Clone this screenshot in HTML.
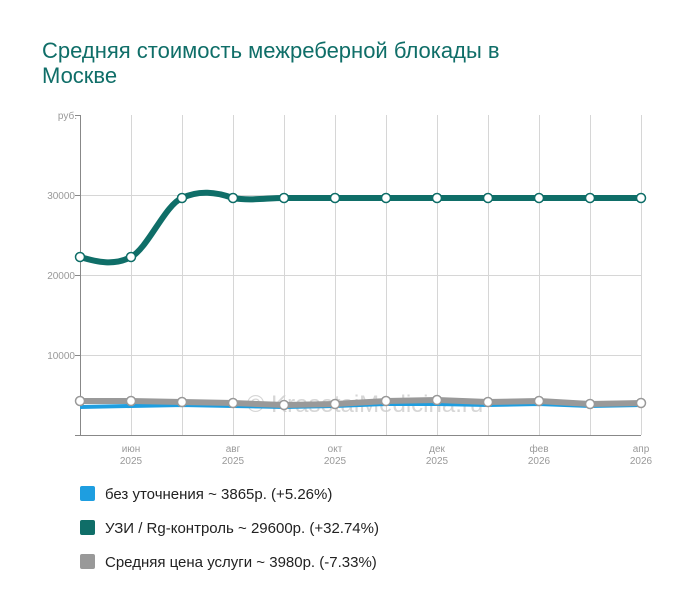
<!DOCTYPE html>
<html><head><meta charset="utf-8"><style>
body{margin:0;background:#fff;width:700px;height:612px;overflow:hidden;font-family:"Liberation Sans",sans-serif}
.t{position:absolute;left:42px;top:38px;font-size:22px;line-height:25px;color:#0f6e68}
.lg{position:absolute;left:80px;font-size:15px;color:#222}
.lg i{display:inline-block;width:15px;height:15px;vertical-align:-2px;margin-right:10px;border-radius:2px}
</style></head><body>
<div class="t">Средняя стоимость межреберной блокады в<br>Москве</div>
<svg width="700" height="612" style="position:absolute;left:0;top:0">
<g stroke="#d6d6d6" stroke-width="1">
<line x1="80" y1="195.5" x2="641" y2="195.5"/><line x1="80" y1="275.5" x2="641" y2="275.5"/><line x1="80" y1="355.5" x2="641" y2="355.5"/>
<line x1="131.5" y1="115" x2="131.5" y2="435"/><line x1="182.5" y1="115" x2="182.5" y2="435"/><line x1="233.5" y1="115" x2="233.5" y2="435"/><line x1="284.5" y1="115" x2="284.5" y2="435"/><line x1="335.5" y1="115" x2="335.5" y2="435"/><line x1="386.5" y1="115" x2="386.5" y2="435"/><line x1="437.5" y1="115" x2="437.5" y2="435"/><line x1="488.5" y1="115" x2="488.5" y2="435"/><line x1="539.5" y1="115" x2="539.5" y2="435"/><line x1="590.5" y1="115" x2="590.5" y2="435"/><line x1="641.5" y1="115" x2="641.5" y2="435"/>
</g>
<g stroke="#888" stroke-width="1"><line x1="80.5" y1="115" x2="80.5" y2="435"/><line x1="75" y1="115.5" x2="80" y2="115.5"/><line x1="75" y1="195.5" x2="80" y2="195.5"/><line x1="75" y1="275.5" x2="80" y2="275.5"/><line x1="75" y1="355.5" x2="80" y2="355.5"/><line x1="75" y1="435.5" x2="641" y2="435.5"/></g>
<g font-size="10" fill="#999" text-anchor="end"><text x="77" y="119">руб.</text><text x="75" y="199">30000</text><text x="75" y="279">20000</text><text x="75" y="359">10000</text></g>
<g font-size="10" fill="#999" text-anchor="middle">
<text x="131" y="452">июн</text><text x="131" y="464">2025</text>
<text x="233" y="452">авг</text><text x="233" y="464">2025</text>
<text x="335" y="452">окт</text><text x="335" y="464">2025</text>
<text x="437" y="452">дек</text><text x="437" y="464">2025</text>
<text x="539" y="452">фев</text><text x="539" y="464">2026</text>
<text x="641" y="452">апр</text><text x="641" y="464">2026</text></g>
<text x="365" y="412" font-size="24" fill="#ccc" text-anchor="middle" opacity="0.8">© KrasotaiMedicina.ru</text>
<polyline fill="none" stroke="#1e9ee0" stroke-width="4" points="80,407 131,406 182,405 233,406 284,407 335,406 386,404 437,404 488,405 539,404 590,406 641,405"/>
<polyline fill="none" stroke="#999" stroke-width="6" points="80,401 131,401 182,402 233,403 284,405 335,404 386,401 437,400 488,402 539,401 590,404 641,403"/>
<path fill="none" stroke="#0f6e68" stroke-width="6" d="M80,257 C97,262 114,266 131,257 C148,248 165,205 182,198 C199,190 216,192 233,198 C250,201 267,198 284,198 L641,198"/>
<g fill="#fff" stroke="#0f6e68" stroke-width="1.5">
<circle cx="80" cy="257" r="4.5"/><circle cx="131" cy="257" r="4.5"/><circle cx="182" cy="198" r="4.5"/><circle cx="233" cy="198" r="4.5"/><circle cx="284" cy="198" r="4.5"/><circle cx="335" cy="198" r="4.5"/><circle cx="386" cy="198" r="4.5"/><circle cx="437" cy="198" r="4.5"/><circle cx="488" cy="198" r="4.5"/><circle cx="539" cy="198" r="4.5"/><circle cx="590" cy="198" r="4.5"/><circle cx="641" cy="198" r="4.5"/></g>
<g fill="#fff" stroke="#999" stroke-width="1.5">
<circle cx="80" cy="401" r="4.5"/><circle cx="131" cy="401" r="4.5"/><circle cx="182" cy="402" r="4.5"/><circle cx="233" cy="403" r="4.5"/><circle cx="284" cy="405" r="4.5"/><circle cx="335" cy="404" r="4.5"/><circle cx="386" cy="401" r="4.5"/><circle cx="437" cy="400" r="4.5"/><circle cx="488" cy="402" r="4.5"/><circle cx="539" cy="401" r="4.5"/><circle cx="590" cy="404" r="4.5"/><circle cx="641" cy="403" r="4.5"/></g>
</svg>
<div class="lg" style="top:486px"><i style="background:#1e9ee0"></i>без уточнения ~ 3865р. (+5.26%)</div>
<div class="lg" style="top:520px"><i style="background:#0f6e68"></i>УЗИ / Rg-контроль ~ 29600р. (+32.74%)</div>
<div class="lg" style="top:554px"><i style="background:#999"></i>Средняя цена услуги ~ 3980р. (-7.33%)</div>
</body></html>
